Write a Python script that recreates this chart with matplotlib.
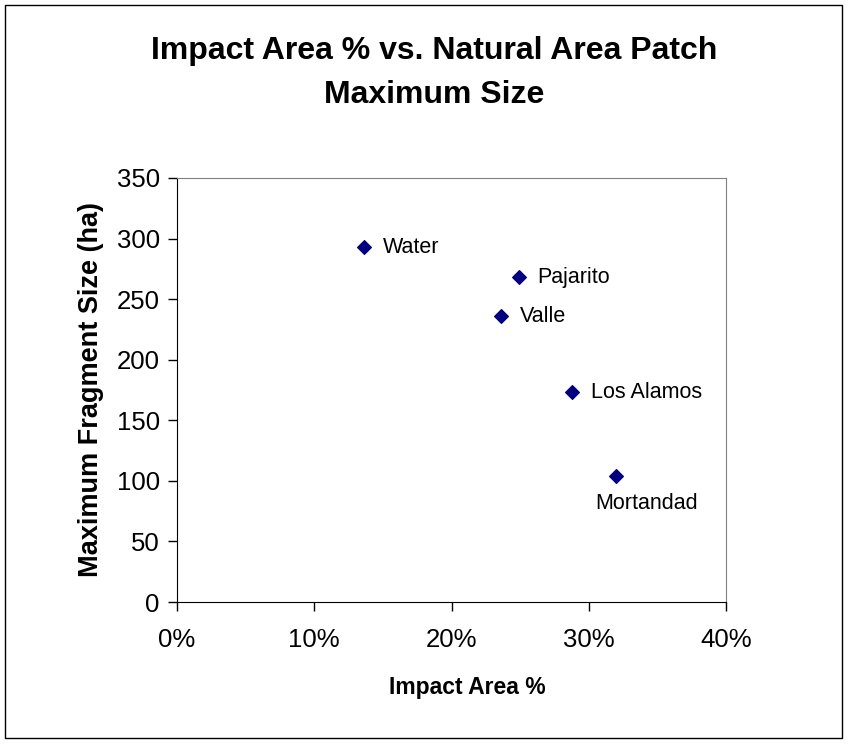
import matplotlib.pyplot as plt
from matplotlib.patches import Rectangle
from matplotlib.ticker import FuncFormatter

plt.rc('font', **{'family': 'sans-serif', 'sans-serif': ['Liberation Sans', 'Arial', 'DejaVu Sans']})

# data
names = ['Water', 'Pajarito', 'Valle', 'Los Alamos', 'Mortandad']
impact = [0.136, 0.249, 0.236, 0.288, 0.320]
max_size = [293, 268, 236, 173, 104]

fig = plt.figure(figsize=(8.48, 7.44), dpi=100)
ax = fig.add_axes([177/848, 1 - 602/744, 549/848, 424/744])

ax.scatter(impact, max_size, marker='D', s=48, color='#000080', zorder=3)

for n, xv, yv in zip(names, impact, max_size):
    if n == 'Mortandad':
        ax.annotate(n, (xv, yv), xytext=(22, -12), textcoords='offset points',
                    ha='center', va='top', fontsize=15.5)
    else:
        ax.annotate(n, (xv, yv), xytext=(13.5, 0), textcoords='offset points',
                    ha='left', va='center', fontsize=15.5)

ax.set_xlim(0, 0.4)
ax.set_ylim(0, 350)
ax.set_xticks([0, 0.1, 0.2, 0.3, 0.4])
ax.set_yticks(range(0, 351, 50))
ax.xaxis.set_major_formatter(FuncFormatter(lambda v, p: '%d%%' % round(v * 100)))
ax.tick_params(direction='out', length=6.5, width=1, labelsize=18.5)
ax.tick_params(axis='x', pad=12)
ax.tick_params(axis='y', pad=6)

for s in ['top', 'right']:
    ax.spines[s].set_color('#808080')
for s in ['left', 'bottom']:
    ax.spines[s].set_color('black')

ax.set_xlabel('Impact Area %', fontsize=16.5, fontweight='bold')
ax.xaxis.set_label_coords(0.528, -0.175)
ax.set_ylabel('Maximum Fragment Size (ha)', fontsize=19.5, fontweight='bold', labelpad=9)

fig.text(434/848, 1 - 73/744, 'Impact Area % vs. Natural Area Patch\nMaximum Size',
         ha='center', va='center', fontsize=23, fontweight='bold', linespacing=1.58)

fig.patches.append(Rectangle((5/848, 6/744), 837/848, 733/744, transform=fig.transFigure,
                             fill=False, edgecolor='black', lw=1))

fig.savefig('out.png', dpi=100)
